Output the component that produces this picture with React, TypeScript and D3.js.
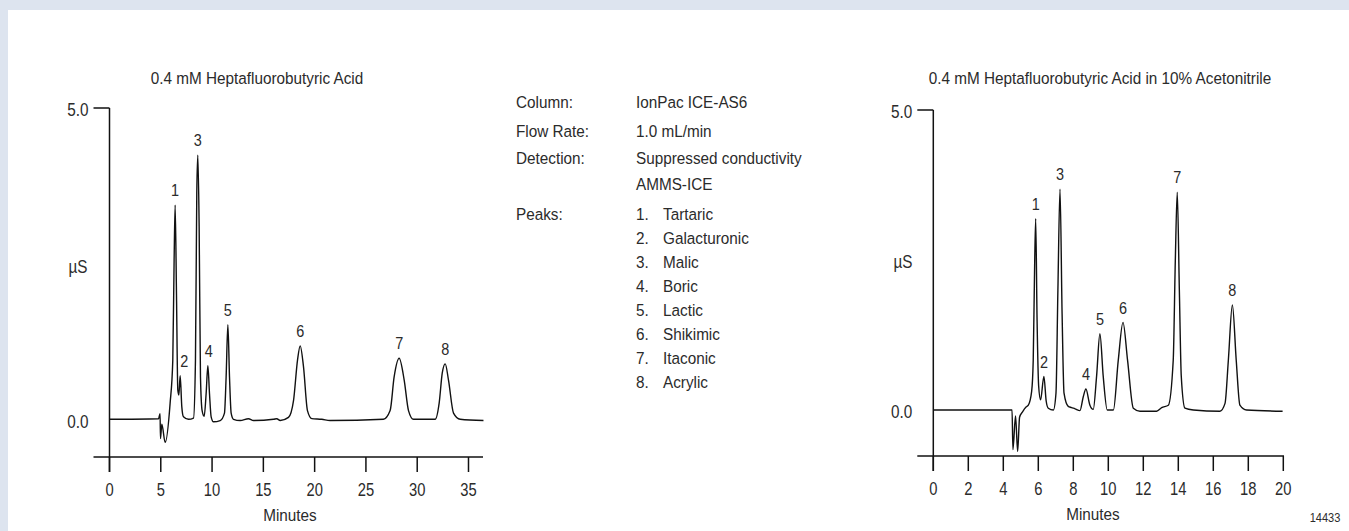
import * as d3 from "d3";

// trace points: [minutes, µS]
const leftTrace: [number, number][] = [
  [0, 0], [4.78, 0.01], [4.93, 0.09], [4.97, -0.31], [5.1, -0.08], [5.43, -0.37],
  [5.91, 0.26], [6.17, 0.95], [6.3, 2.56], [6.4, 3.44], [6.53, 2.02], [6.66, 0.47],
  [6.76, 0.39], [6.89, 0.7], [7.05, 0.2], [7.21, 0.04], [7.7, 0], [8.19, 0.02],
  [8.38, 0.95], [8.51, 3.63], [8.61, 4.24], [8.74, 3.1], [8.87, 0.68], [9.03, 0.14],
  [9.23, 0.05], [9.42, 0.41], [9.59, 0.86], [9.75, 0.41], [9.91, 0.04], [10.14, -0.04],
  [10.79, -0.02], [11.21, 0.1], [11.37, 0.68], [11.54, 1.52], [11.7, 0.68], [11.86, 0.1],
  [12.09, 0], [12.74, -0.02], [13.55, 0.01], [14.04, -0.02], [15.99, 0], [16.31, 0.01],
  [16.64, -0.02], [17.45, 0.03], [17.94, 0.3], [18.33, 0.95], [18.59, 1.18], [18.91, 0.85],
  [19.3, 0.14], [19.73, 0.01], [20.7, 0], [21.5, -0.02], [26.7, 0], [27.36, 0.14],
  [27.75, 0.68], [28.24, 0.98], [28.73, 0.63], [29.15, 0.14], [29.64, 0], [31.75, 0],
  [32.14, 0.26], [32.44, 0.74], [32.73, 0.89], [33.05, 0.63], [33.54, 0.1], [34.19, 0],
  [36.46, -0.02],
];

const rightTrace: [number, number][] = [
  [0, 0], [4.5, 0], [4.55, -0.66], [4.7, -0.1], [4.82, -0.69], [4.93, -0.12],
  [5.1, -0.03], [5.3, 0.05], [5.43, 0.08], [5.62, 0.31], [5.71, 0.83], [5.78, 2.2],
  [5.85, 3.19], [5.93, 1.5], [6.02, 0.4], [6.13, 0.17], [6.32, 0.56], [6.45, 0.15],
  [6.57, 0.03], [6.86, 0], [7.01, 0.28], [7.12, 2.0], [7.24, 3.68], [7.36, 1.6],
  [7.47, 0.28], [7.71, 0.06], [7.9, 0.04], [8.1, 0.02], [8.38, -0.01], [8.57, 0.22],
  [8.72, 0.35], [8.95, 0.08], [9.14, 0.01], [9.33, 0.56], [9.52, 1.27], [9.71, 0.56],
  [9.94, 0], [10.29, 0], [10.57, 0.83], [10.84, 1.46], [11.1, 0.83], [11.43, 0.03],
  [11.81, -0.02], [12.76, -0.02], [13.05, 0.04], [13.43, 0.08], [13.71, 0.83], [13.83, 2.5],
  [13.94, 3.63], [14.06, 2.0], [14.17, 0.56], [14.38, 0.03], [14.86, 0], [16.38, -0.02],
  [16.67, 0.11], [16.86, 0.83], [17.09, 1.75], [17.31, 0.83], [17.52, 0.08], [17.9, 0],
  [19.96, -0.02],
];

// peak number, retention time, height, label x nudge
const leftPeaks: [number, number, number, number][] = [
  [1, 6.4, 3.44, 0], [2, 6.89, 0.7, 4], [3, 8.61, 4.24, 0], [4, 9.59, 0.86, 1],
  [5, 11.54, 1.52, 0], [6, 18.59, 1.18, 0], [7, 28.24, 0.98, 0], [8, 32.73, 0.89, 0],
];
const rightPeaks: [number, number, number, number][] = [
  [1, 5.85, 3.19, 0], [2, 6.32, 0.56, 0], [3, 7.24, 3.68, 0], [4, 8.72, 0.35, 0],
  [5, 9.52, 1.27, 0], [6, 10.84, 1.46, 0], [7, 13.94, 3.63, 0], [8, 17.09, 1.75, 0],
];

const leftTicks = [0, 5, 10, 15, 20, 25, 30, 35];
const rightTicks = [0, 2, 4, 6, 8, 10, 12, 14, 16, 18, 20];
const yTickLabels = ["5.0", "0.0"];

const leftTitle = "0.4 mM Heptafluorobutyric Acid";
const rightTitle = "0.4 mM Heptafluorobutyric Acid in 10% Acetonitrile";

const conditionKeys = ["Column:", "Flow Rate:", "Detection:", "", "Peaks:"];
const conditionValues = ["IonPac ICE-AS6", "1.0 mL/min", "Suppressed conductivity", "AMMS-ICE"];
const peakNames = ["Tartaric", "Galacturonic", "Malic", "Boric", "Lactic", "Shikimic", "Itaconic", "Acrylic"];

const FONT = "'Liberation Sans', Arial, sans-serif";
const INK = "#2b2b2b";

// text squeezed horizontally to imitate the condensed face of the original
function T({x, y, size = 17, sx = 0.9, anchor = "start", children}:
  {x: number; y: number; size?: number; sx?: number; anchor?: string; children: any}) {
  return (
    <text transform={`translate(${x},${y}) scale(${sx},1)`} dy="0.36em" textAnchor={anchor}
      fontSize={size} fontFamily={FONT} fill={INK}>{children}</text>
  );
}

interface PanelProps {
  trace: [number, number][];
  peaks: [number, number, number, number][];
  ticks: number[];
  x0: number;
  pxPerMin: number;
  y0: number;
  y5: number;
  axisY: number;
  axisEnd: number;
  title: string;
  titleX: number;
  unitX: number;
  unitY: number;
  minutesX: number;
}

function Panel(p: PanelProps) {
  const x = d3.scaleLinear().domain([0, 1]).range([p.x0, p.x0 + p.pxPerMin]);
  const y = d3.scaleLinear().domain([0, 5]).range([p.y0, p.y5]);
  const line = d3.line<[number, number]>()
    .x(d => x(d[0]))
    .y(d => y(d[1]))
    .curve(d3.curveMonotoneX);
  const left = p.x0 - 16;
  const tickLen = 15;

  return (
    <g>
      <T x={p.titleX} y={78} anchor="middle">{p.title}</T>
      <T x={p.unitX} y={p.unitY} anchor="middle" size={18} sx={0.85}>µS</T>
      {yTickLabels.map((t, i) => (
        <T key={t} x={p.x0 - 21} y={(i === 0 ? y(5) : y(0)) + 2} anchor="end" size={18} sx={0.85}>{t}</T>
      ))}
      <g stroke="#111" strokeWidth={1.5} fill="none">
        <line x1={left} x2={p.x0} y1={y(5)} y2={y(5)} />
        <line x1={p.x0} x2={p.x0} y1={y(5)} y2={p.axisY + tickLen} />
        <line x1={left} x2={p.axisEnd} y1={p.axisY} y2={p.axisY} />
        {p.ticks.map(t => (
          <line key={t} x1={x(t)} x2={x(t)} y1={p.axisY} y2={p.axisY + tickLen} />
        ))}
        <path d={line(p.trace) ?? ""} strokeWidth={1.4} strokeLinejoin="round" />
      </g>
      {p.ticks.map(t => (
        <T key={t} x={x(t)} y={p.axisY + 33} anchor="middle" size={18} sx={0.82}>{t}</T>
      ))}
      <T x={p.minutesX} y={p.axisY + 58} anchor="middle">Minutes</T>
      {p.peaks.map(([n, t, v, dx]) => (
        <T key={n} x={x(t) + dx} y={y(v) - 15} anchor="middle" size={17} sx={0.85}>{n}</T>
      ))}
    </g>
  );
}

export default function App() {
  const width = 1349;
  const height = 531;
  const keyRows = [102, 131, 158, 184, 214];
  const peakRow = d3.scaleLinear().domain([0, 1]).range([214, 238]);

  return (
    <div style={{position: "fixed", left: 0, top: 0}}>
      <svg width={width} height={height} viewBox={`0 0 ${width} ${height}`} style={{display: "block", background: "#fff"}}>
        <rect x={0} y={0} width={width} height={10} fill="#dde4ef" />
        <rect x={0} y={0} width={8} height={height} fill="#dde4ef" />

        <Panel trace={leftTrace} peaks={leftPeaks} ticks={leftTicks}
          x0={109.5} pxPerMin={10.257} y0={419.3} y5={108} axisY={457} axisEnd={483}
          title={leftTitle} titleX={257} unitX={78} unitY={267} minutesX={290} />

        <Panel trace={rightTrace} peaks={rightPeaks} ticks={rightTicks}
          x0={933.3} pxPerMin={17.5} y0={410} y5={110} axisY={456} axisEnd={1284}
          title={rightTitle} titleX={1100} unitX={903} unitY={262} minutesX={1093} />

        {conditionKeys.map((k, i) => k && (
          <T key={k} x={516} y={keyRows[i]}>{k}</T>
        ))}
        {conditionValues.map((v, i) => (
          <T key={v} x={636} y={keyRows[i]}>{v}</T>
        ))}
        {peakNames.map((name, i) => (
          <g key={name}>
            <T x={636} y={peakRow(i)}>{`${i + 1}.`}</T>
            <T x={663} y={peakRow(i)}>{name}</T>
          </g>
        ))}

        <T x={1325} y={517} anchor="middle" size={13} sx={0.85}>14433</T>
      </svg>
    </div>
  );
}
